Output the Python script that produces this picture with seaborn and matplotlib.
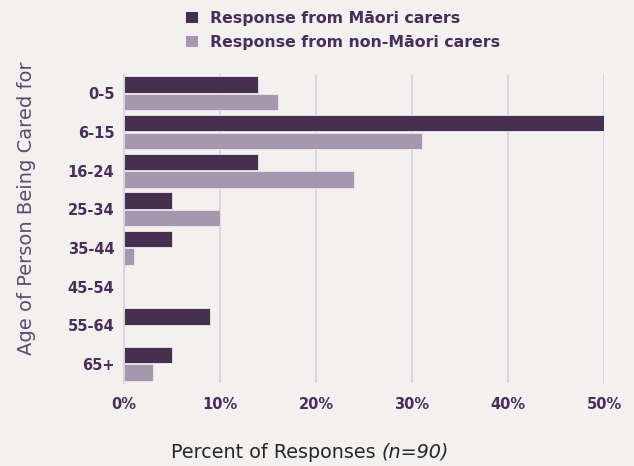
import matplotlib
matplotlib.use("Agg")
import matplotlib.pyplot as plt
import seaborn as sns
import pandas as pd
from matplotlib.patches import Patch

# Age groups of the person being cared for
age_groups = ["0-5", "6-15", "16-24", "25-34", "35-44", "45-54", "55-64", "65+"]
# Percent of responses per group
maori = [14, 50, 14, 5, 5, 0, 9, 5]
non_maori = [16, 31, 24, 10, 1, 0, 0, 3]
series_names = ["Response from Māori carers", "Response from non-Māori carers"]
x_ticks = [0, 10, 20, 30, 40, 50]
x_tick_labels = ["0%", "10%", "20%", "30%", "40%", "50%"]

bg = "#F3F1EF"
dark = "#472C54"
light = "#A793B2"
text_purple = "#4A2E5A"
grid_col = "#D8D0DC"

df = pd.DataFrame({
    "age": age_groups * 2,
    "pct": maori + non_maori,
    "series": [series_names[0]] * len(age_groups) + [series_names[1]] * len(age_groups),
})

sns.set_theme(style="white")
plt.rcParams["font.family"] = ["DejaVu Sans"]

fig = plt.figure(figsize=(6.34, 4.66), dpi=100, facecolor=bg)
ax = fig.add_axes([0.1956, 0.178, 0.757, 0.663])
ax.set_facecolor(bg)

sns.barplot(
    data=df, y="age", x="pct", hue="series", order=age_groups,
    hue_order=series_names, palette=[dark, light], orient="h",
    width=0.91, gap=0.06, edgecolor="#EDE7EF", linewidth=0.6,
    legend=False, ax=ax,
)

ax.set_xlim(0, 50)
ax.set_ylim(7.5, -0.5)
ax.set_xticks(x_ticks)
ax.set_xticklabels(x_tick_labels)
ax.xaxis.grid(True, color=grid_col, linewidth=1.2)
ax.set_axisbelow(True)
for side in ["top", "right", "bottom"]:
    ax.spines[side].set_visible(False)
ax.spines["left"].set_color(grid_col)
ax.spines["left"].set_linewidth(1.2)
ax.tick_params(axis="both", length=0, labelcolor=text_purple)
for lbl in ax.get_xticklabels() + ax.get_yticklabels():
    lbl.set_fontweight("bold")
    lbl.set_fontsize(10.5)
ax.tick_params(axis="x", pad=10)
ax.tick_params(axis="y", pad=7)

ax.set_xlabel("")
ax.set_ylabel("Age of Person Being Cared for", fontsize=14, color="#5E4C70",
              fontweight="normal")
ax.yaxis.set_label_coords(-0.183, 0.566)

# Axis title with italic sample size
fig.canvas.draw()
renderer = fig.canvas.get_renderer()
t1 = fig.text(0.0, 0.0, "Percent of Responses ", fontsize=13.8,
              color="#262626", va="center", ha="left")
t2 = fig.text(0.0, 0.0, "(n=90)", fontsize=13.8, color="#262626",
              style="italic", va="center", ha="left")
w1 = t1.get_window_extent(renderer).width
w2 = t2.get_window_extent(renderer).width
start = 310 - (w1 + w2) / 2
t1.set_x(start / fig.bbox.width)
t2.set_x((start + w1) / fig.bbox.width)
t1.set_y(1 - 452 / 466)
t2.set_y(1 - 452 / 466)

handles = [Patch(facecolor=dark, edgecolor="none"), Patch(facecolor=light, edgecolor="none")]
leg = fig.legend(handles, series_names, loc="upper left",
                 bbox_to_anchor=(172 / 634, 1 + 3 / 466), frameon=False,
                 handlelength=0.75, handleheight=0.75, handletextpad=0.75,
                 labelspacing=0.55, fontsize=11.3)
for t in leg.get_texts():
    t.set_color(text_purple)
    t.set_fontweight("bold")

fig.savefig("out.png", dpi=100, facecolor=bg)
